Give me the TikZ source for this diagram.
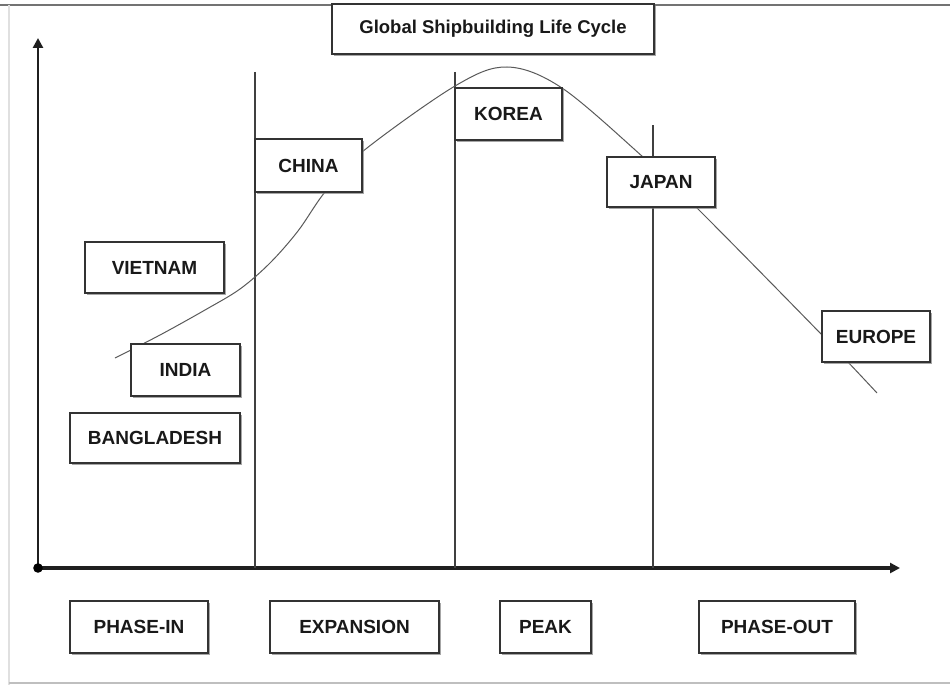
\documentclass[tikz,border=0pt]{standalone}
\usepackage{fontspec}
\setmainfont{Liberation Sans}
\usetikzlibrary{shadows,arrows.meta}
\begin{document}
\begin{tikzpicture}[x=1pt,y=-1pt,
  box/.style={draw=black!80, line width=1.1pt, fill=white, inner sep=0pt,
    font=\fontsize{19}{22}\selectfont\bfseries, text=black!90,
    drop shadow={shadow xshift=1.6pt, shadow yshift=-1.8pt, fill=black!50, opacity=0.7}},
  divider/.style={draw=black!75, line width=1.3pt},
  axis/.style={draw=black!88, line width=3.2pt},
  curve/.style={draw=black!65, line width=1pt},
  frameline/.style={line width=1.6pt}]
\useasboundingbox (0,0) rectangle (950,685);
% frame
\draw[frameline, black!55] (0,5) -- (950,5);
\draw[frameline, black!12] (9,5) -- (9,685);
\draw[frameline, black!25] (9,683) -- (950,683);
% axes
\coordinate (O) at (38,568);
\coordinate (Ytop) at (38,38);
\coordinate (Xend) at (900,568);
\draw[axis, -{Triangle[length=10pt,width=10pt]}] (O) -- (Xend);
\draw[axis, line width=2.6pt, -{Triangle[length=10pt,width=10pt]}] (O) -- (Ytop);
\fill[black] (O) circle (4.8);
% dividers
\coordinate (d1t) at (255,72);  \coordinate (d1b) at (255,568);
\coordinate (d2t) at (455,72);  \coordinate (d2b) at (455,568);
\coordinate (d3t) at (653,125); \coordinate (d3b) at (653,568);
\draw[divider] (d1t) -- (d1b);
\draw[divider] (d2t) -- (d2b);
\draw[divider] (d3t) -- (d3b);
% life cycle curve
\draw[curve] plot[smooth, tension=0.55] coordinates {
  (115,358) (160,335) (205,310) (240,289) (270,263) (298,231) (325,192)
  (362,152) (455,86) (507,67) (562,88) (643,157) (697,208)
  (822,335) (877,393)};
% country boxes
\node[box, minimum width=139pt, minimum height=51pt] (vietnam) at (154.5,267.5) {VIETNAM};
\node[box, minimum width=109pt, minimum height=52pt] (india) at (185.5,370) {INDIA};
\node[box, minimum width=170pt, minimum height=50pt] (bangladesh) at (155,438) {BANGLADESH};
\node[box, minimum width=107pt, minimum height=53pt] (china) at (308.5,165.5) {CHINA};
\node[box, minimum width=107pt, minimum height=52pt] (korea) at (508.5,114) {KOREA};
\node[box, minimum width=108pt, minimum height=50pt] (japan) at (661,182) {JAPAN};
\node[box, minimum width=108pt, minimum height=51pt] (europe) at (876,336.5) {EUROPE};
% phase boxes
\node[box, minimum width=138pt, minimum height=52pt] (phasein) at (139,627) {PHASE-IN};
\node[box, minimum width=169pt, minimum height=52pt] (expansion) at (354.5,627) {EXPANSION};
\node[box, minimum width=91pt, minimum height=52pt] (peak) at (545.5,627) {PEAK};
\node[box, minimum width=156pt, minimum height=52pt] (phaseout) at (777,627) {PHASE-OUT};
% title
\node[box, minimum width=322pt, minimum height=50pt, font=\fontsize{18.5}{22}\selectfont\bfseries] (title) at (493,29) {Global Shipbuilding Life Cycle};
\end{tikzpicture}
\end{document}
